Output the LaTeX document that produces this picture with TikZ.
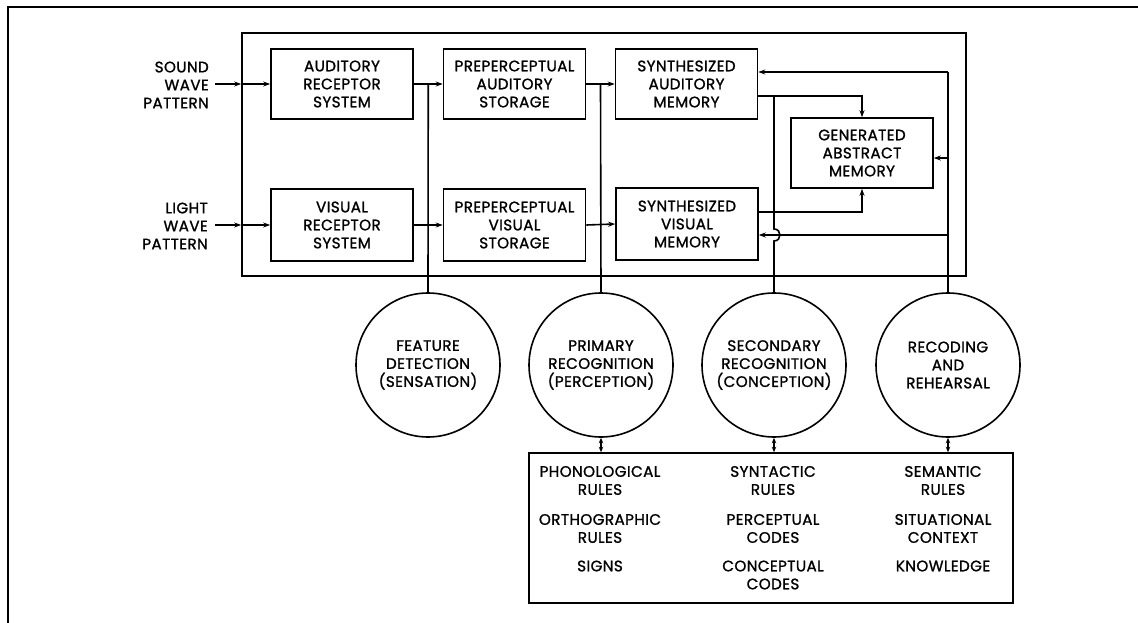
\documentclass[tikz,border=0pt]{standalone}
\usepackage{fontspec}
\setmainfont{Poppins}
\newfontfamily\labfont{Poppins}[FakeBold=1.2,LetterSpace=2.5]
\usetikzlibrary{arrows.meta,calc}
\begin{document}
\begin{tikzpicture}[x=1pt,y=-1pt,
  lw/.style={line width=1.6pt},
  txt/.style={font=\labfont\fontsize{15.2}{18}\selectfont, align=center, inner sep=0pt},
  box/.style={draw, line width=1.6pt, txt, minimum width=142pt, minimum height=70pt},
  circ/.style={draw, circle, line width=1.6pt, txt, minimum size=144pt},
  tip/.style={lw, -{Stealth[length=7pt,width=5pt]}},
  dtip/.style={lw, {Stealth[length=5.5pt,width=4.5pt]}-{Stealth[length=5.5pt,width=4.5pt]}},
]
\useasboundingbox (0,0) rectangle (1138,623);
\fill[white] (0,0) rectangle (1138,623);
\draw[lw] (8,623) -- (8,7) -- (1138,7);

% main enclosing box
\node[draw, lw, minimum width=724pt, minimum height=243pt, inner sep=0pt] (big) at (604,154.5) {};

% boxes
\node[box] (ar) at (342,84) {AUDITORY\\RECEPTOR\\SYSTEM};
\node[box] (pa) at (514.5,84) {PREPERCEPTUAL\\AUDITORY\\STORAGE};
\node[box] (sa) at (686.5,84) {SYNTHESIZED\\AUDITORY\\MEMORY};
\node[box, minimum height=72pt] (vr) at (342,225) {VISUAL\\RECEPTOR\\SYSTEM};
\node[box, minimum height=72pt] (pv) at (514.5,225) {PREPERCEPTUAL\\VISUAL\\STORAGE};
\node[box, minimum height=72pt] (sv) at (687,224) {SYNTHESIZED\\VISUAL\\MEMORY};
\node[box] (gam) at (862,153) {GENERATED\\ABSTRACT\\MEMORY};

% circles
\node[circ] (fd) at (428,365) {FEATURE\\DETECTION\\(SENSATION)};
\node[circ] (pr) at (601,365) {PRIMARY\\RECOGNITION\\(PERCEPTION)};
\node[circ] (sr) at (774,365) {SECONDARY\\RECOGNITION\\(CONCEPTION)};
\node[circ] (rr) at (948,365) {RECODING\\AND\\REHEARSAL};

% rules box
\node[draw, lw, minimum width=484pt, minimum height=150pt, inner sep=0pt] (rules) at (771,528) {};
\node[txt] (c1a) at (600,480.5) {PHONOLOGICAL\\RULES};
\node[txt] (c1b) at (600,528.5) {ORTHOGRAPHIC\\RULES};
\node[txt] (c1c) at (600,566) {SIGNS};
\node[txt] (c2a) at (773,480.5) {SYNTACTIC\\RULES};
\node[txt] (c2b) at (773,528.5) {PERCEPTUAL\\CODES};
\node[txt] (c2c) at (773,575) {CONCEPTUAL\\CODES};
\node[txt] (c3a) at (943,480.5) {SEMANTIC\\RULES};
\node[txt] (c3b) at (943,528.5) {SITUATIONAL\\CONTEXT};
\node[txt] (c3c) at (943,566) {KNOWLEDGE};

% input labels
\node[txt, align=right, anchor=east] (sw) at (209,85) {SOUND\\WAVE\\PATTERN};
\node[txt, align=right, anchor=east] (lw) at (208,226) {LIGHT\\WAVE\\PATTERN};
\coordinate (swa) at (215,84);
\coordinate (lwa) at (215,225);

% inputs
\draw[tip] (swa) -- (big.west |- swa);
\draw[tip] (big.west |- swa) -- (ar.west);
\draw[tip] (lwa) -- (big.west |- lwa);
\draw[tip] (big.west |- lwa) -- (vr.west);

% forward chain
\draw[tip] (ar.east) -- (pa.west);
\draw[tip] (pa.east) -- (sa.west);
\draw[tip] (vr.east) -- (pv.west);
\draw[tip] (pv.east) -- (sv.west);

% feature detection and primary recognition taps
\coordinate (j1) at ($(ar.east)!0.5!(pa.west)$);
\coordinate (j2) at ($(pa.east)!0.5!(sa.west)$);
\draw[lw] (j1) -- (fd.north);
\draw[lw] (j2) -- (pr.north);

% synthesized memories to generated abstract memory
\coordinate (k1) at (862,96);
\coordinate (k2) at (862,212);
\draw[tip] (sa.east |- k1) -- (k1) -- (gam.north);
\draw[tip] (sv.east |- k2) -- (k2) -- (gam.south);

% recoding and rehearsal feedback
\coordinate (r1) at (948,72);
\coordinate (r2) at (948,158);
\coordinate (r3) at (948,235);
\draw[lw] (r1) -- (rr.north);
\draw[tip] (r1) -- (sa.east |- r1);
\draw[tip] (r2) -- (gam.east |- r2);
\draw[tip] (r3) -- (sv.east |- r3);

% secondary recognition tap with hop
\coordinate (s1) at (774,96);
\draw[lw] (s1) -- ([yshift=6pt]s1 |- r3) .. controls +(8,0) and +(8,0) .. ([yshift=-6pt]s1 |- r3) -- (sr.north);

% links to rules box
\draw[dtip] (pr.south) -- (pr.south |- rules.north);
\draw[dtip] (sr.south) -- (sr.south |- rules.north);
\draw[dtip] (rr.south) -- (rr.south |- rules.north);
\end{tikzpicture}
\end{document}
